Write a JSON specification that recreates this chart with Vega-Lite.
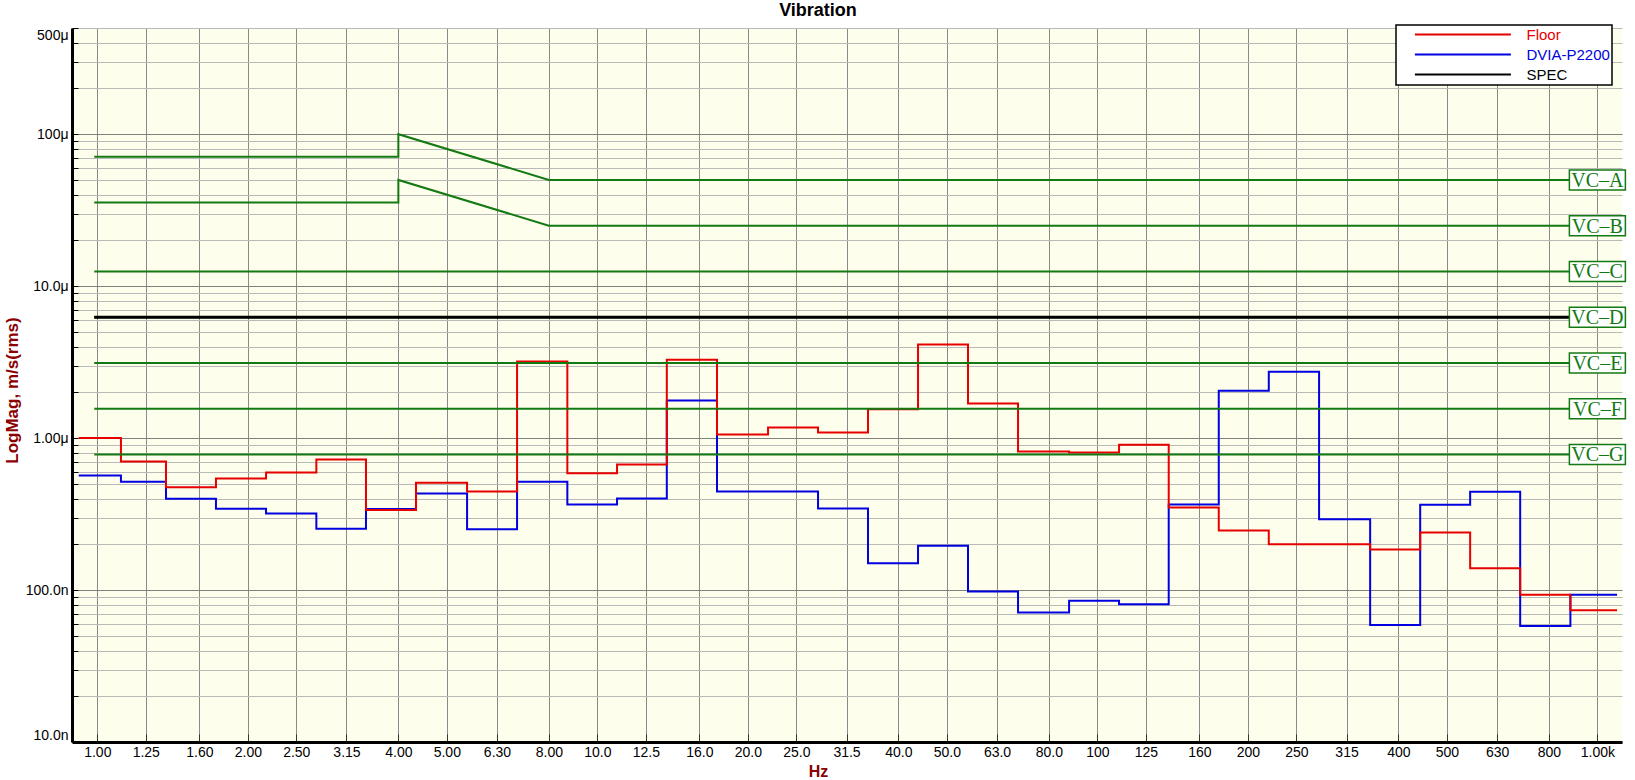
{
  "$schema": "https://vega.github.io/schema/vega-lite/v6.json",
  "width": 1550,
  "height": 714,
  "autosize": {"type": "none"},
  "padding": {"left": 72, "top": 28, "right": 13, "bottom": 38},
  "background": "white",
  "title": {"text": "Vibration", "anchor": "middle", "frame": "group", "dx": -29, "offset": 4, "fontSize": 18, "font": "Liberation Sans", "fontWeight": "bold", "color": "black"},
  "config": {
    "view": {"fill": "#fefeec", "stroke": null},
    "legend": {"strokeWidth": 1.5}
  },
  "datasets": {
    "meas": [
      {"series": "DVIA-P2200", "f": 0.918, "v": 0.568},
      {"series": "DVIA-P2200", "f": 1.115, "v": 0.516},
      {"series": "DVIA-P2200", "f": 1.372, "v": 0.399},
      {"series": "DVIA-P2200", "f": 1.727, "v": 0.343},
      {"series": "DVIA-P2200", "f": 2.175, "v": 0.319},
      {"series": "DVIA-P2200", "f": 2.742, "v": 0.253},
      {"series": "DVIA-P2200", "f": 3.446, "v": 0.341},
      {"series": "DVIA-P2200", "f": 4.339, "v": 0.432},
      {"series": "DVIA-P2200", "f": 5.489, "v": 0.251},
      {"series": "DVIA-P2200", "f": 6.91, "v": 0.516},
      {"series": "DVIA-P2200", "f": 8.71, "v": 0.366},
      {"series": "DVIA-P2200", "f": 10.95, "v": 0.401},
      {"series": "DVIA-P2200", "f": 13.77, "v": 1.77},
      {"series": "DVIA-P2200", "f": 17.35, "v": 0.446},
      {"series": "DVIA-P2200", "f": 21.95, "v": 0.446},
      {"series": "DVIA-P2200", "f": 27.63, "v": 0.344},
      {"series": "DVIA-P2200", "f": 34.78, "v": 0.15},
      {"series": "DVIA-P2200", "f": 43.79, "v": 0.196},
      {"series": "DVIA-P2200", "f": 55.12, "v": 0.098},
      {"series": "DVIA-P2200", "f": 69.4, "v": 0.0713},
      {"series": "DVIA-P2200", "f": 87.79, "v": 0.0851},
      {"series": "DVIA-P2200", "f": 110.5, "v": 0.0805},
      {"series": "DVIA-P2200", "f": 138.9, "v": 0.366},
      {"series": "DVIA-P2200", "f": 174.9, "v": 2.05},
      {"series": "DVIA-P2200", "f": 220.2, "v": 2.73},
      {"series": "DVIA-P2200", "f": 277.6, "v": 0.292},
      {"series": "DVIA-P2200", "f": 351.2, "v": 0.0589},
      {"series": "DVIA-P2200", "f": 442.2, "v": 0.364},
      {"series": "DVIA-P2200", "f": 556.6, "v": 0.444},
      {"series": "DVIA-P2200", "f": 700.8, "v": 0.058},
      {"series": "DVIA-P2200", "f": 883.1, "v": 0.0932},
      {"series": "DVIA-P2200", "f": 1095, "v": 0.0932},
      {"series": "Floor", "f": 0.918, "v": 1.0},
      {"series": "Floor", "f": 1.115, "v": 0.702},
      {"series": "Floor", "f": 1.372, "v": 0.474},
      {"series": "Floor", "f": 1.727, "v": 0.543},
      {"series": "Floor", "f": 2.175, "v": 0.594},
      {"series": "Floor", "f": 2.742, "v": 0.724},
      {"series": "Floor", "f": 3.446, "v": 0.336},
      {"series": "Floor", "f": 4.339, "v": 0.508},
      {"series": "Floor", "f": 5.489, "v": 0.446},
      {"series": "Floor", "f": 6.91, "v": 3.19},
      {"series": "Floor", "f": 8.71, "v": 0.586},
      {"series": "Floor", "f": 10.95, "v": 0.671},
      {"series": "Floor", "f": 13.77, "v": 3.28},
      {"series": "Floor", "f": 17.35, "v": 1.057},
      {"series": "Floor", "f": 21.95, "v": 1.175},
      {"series": "Floor", "f": 27.63, "v": 1.09},
      {"series": "Floor", "f": 34.78, "v": 1.55},
      {"series": "Floor", "f": 43.79, "v": 4.13},
      {"series": "Floor", "f": 55.12, "v": 1.69},
      {"series": "Floor", "f": 69.4, "v": 0.817},
      {"series": "Floor", "f": 87.79, "v": 0.805},
      {"series": "Floor", "f": 110.5, "v": 0.904},
      {"series": "Floor", "f": 138.9, "v": 0.35},
      {"series": "Floor", "f": 174.9, "v": 0.247},
      {"series": "Floor", "f": 220.2, "v": 0.2},
      {"series": "Floor", "f": 277.6, "v": 0.2},
      {"series": "Floor", "f": 351.2, "v": 0.185},
      {"series": "Floor", "f": 442.2, "v": 0.2395},
      {"series": "Floor", "f": 556.6, "v": 0.139},
      {"series": "Floor", "f": 700.8, "v": 0.0932},
      {"series": "Floor", "f": 883.1, "v": 0.0735},
      {"series": "Floor", "f": 1095, "v": 0.0735}
    ],
    "vc": [
      {"vc": "VC-A", "i": 0, "f": 0.986, "v": 71},
      {"vc": "VC-A", "i": 1, "f": 4, "v": 71},
      {"vc": "VC-A", "i": 2, "f": 4, "v": 100},
      {"vc": "VC-A", "i": 3, "f": 8, "v": 50},
      {"vc": "VC-A", "i": 4, "f": 1000, "v": 50},
      {"vc": "VC-B", "i": 0, "f": 0.986, "v": 35.5},
      {"vc": "VC-B", "i": 1, "f": 4, "v": 35.5},
      {"vc": "VC-B", "i": 2, "f": 4, "v": 50},
      {"vc": "VC-B", "i": 3, "f": 8, "v": 25},
      {"vc": "VC-B", "i": 4, "f": 1000, "v": 25},
      {"vc": "VC-C", "i": 0, "f": 0.986, "v": 12.5},
      {"vc": "VC-C", "i": 1, "f": 1000, "v": 12.5},
      {"vc": "VC-D", "i": 0, "f": 0.986, "v": 6.25},
      {"vc": "VC-D", "i": 1, "f": 1000, "v": 6.25},
      {"vc": "VC-E", "i": 0, "f": 0.986, "v": 3.125},
      {"vc": "VC-E", "i": 1, "f": 1000, "v": 3.125},
      {"vc": "VC-F", "i": 0, "f": 0.986, "v": 1.5625},
      {"vc": "VC-F", "i": 1, "f": 1000, "v": 1.5625},
      {"vc": "VC-G", "i": 0, "f": 0.986, "v": 0.78125},
      {"vc": "VC-G", "i": 1, "f": 1000, "v": 0.78125}
    ],
    "spec": [
      {"series": "SPEC", "f": 0.986, "v": 6.25},
      {"series": "SPEC", "f": 1000, "v": 6.25}
    ],
    "vclabels": [
      {"label": "VC–A", "f": 1000, "v": 50},
      {"label": "VC–B", "f": 1000, "v": 25},
      {"label": "VC–C", "f": 1000, "v": 12.5},
      {"label": "VC–D", "f": 1000, "v": 6.25},
      {"label": "VC–E", "f": 1000, "v": 3.125},
      {"label": "VC–F", "f": 1000, "v": 1.5625},
      {"label": "VC–G", "f": 1000, "v": 0.78125}
    ]
  },
  "encoding": {
    "x": {
      "field": "f", "type": "quantitative",
      "scale": {"type": "log", "domain": [0.89, 1120], "nice": false, "zero": false},
      "axis": {
        "values": [1, 1.25, 1.6, 2, 2.5, 3.15, 4, 5, 6.3, 8, 10, 12.5, 16, 20, 25, 31.5, 40, 50, 63, 80, 100, 125, 160, 200, 250, 315, 400, 500, 630, 800, 1000],
        "labelExpr": "datum.value >= 1000 ? '1.00k' : datum.value >= 100 ? format(datum.value, 'd') : datum.value >= 10 ? format(datum.value, '.1f') : format(datum.value, '.2f')",
        "grid": true, "gridColor": "#8a8a8a", "gridWidth": 1, "gridOpacity": 1,
        "ticks": true, "tickSize": -8, "tickColor": "#333333", "tickWidth": 1,
        "labelPadding": 11, "labelFont": "Liberation Sans", "labelFontSize": 14, "labelColor": "black",
        "labelFlush": false, "labelOverlap": false,
        "domainColor": "black", "domainWidth": 3,
        "title": "Hz", "titleFont": "Liberation Sans", "titleFontSize": 16, "titleFontWeight": "bold", "titleColor": "#8b0000",
        "titleX": 746, "titleY": 29, "titleAlign": "center", "titleBaseline": "middle"
      }
    },
    "y": {
      "field": "v", "type": "quantitative",
      "scale": {"type": "log", "domain": [0.01, 500], "nice": false, "zero": false},
      "axis": {
        "values": [0.01, 0.02, 0.03, 0.04, 0.05, 0.06, 0.07, 0.08, 0.09, 0.1, 0.2, 0.3, 0.4, 0.5, 0.6, 0.7, 0.8, 0.9, 1, 2, 3, 4, 5, 6, 7, 8, 9, 10, 20, 30, 40, 50, 60, 70, 80, 90, 100, 200, 300, 400, 500],
        "labelExpr": "datum.value == 500 ? '500μ' : datum.value == 100 ? '100μ' : datum.value == 10 ? '10.0μ' : datum.value == 1 ? '1.00μ' : datum.value == 0.1 ? '100.0n' : datum.value == 0.01 ? '10.0n' : ''",
        "grid": true,
        "gridColor": {"condition": {"test": "indexof([0.01, 0.1, 1, 10, 100], datum.value) >= 0", "value": "#808080"}, "value": "#b9b9b9"},
        "gridWidth": 1, "gridOpacity": 1,
        "ticks": true, "tickSize": -6, "tickColor": "black", "tickWidth": 1,
        "labelPadding": 10, "labelFont": "Liberation Sans", "labelFontSize": 14, "labelColor": "black",
        "labelFlush": true, "labelOverlap": false,
        "domainColor": "black", "domainWidth": 3,
        "title": "LogMag, m/s(rms)", "titleFont": "Liberation Sans", "titleFontSize": 17, "titleFontWeight": "bold", "titleColor": "#8b0000",
        "titleX": -60, "titleY": 362, "titleAngle": -90, "titleAlign": "center", "titleBaseline": "middle"
      }
    }
  },
  "layer": [
    {
      "data": {"name": "meas"},
      "transform": [{"filter": "datum.series == 'DVIA-P2200'"}],
      "mark": {"type": "line", "interpolate": "step-after", "strokeWidth": 2},
      "encoding": {
        "color": {
          "field": "series", "type": "nominal",
          "scale": {"domain": ["Floor", "DVIA-P2200", "SPEC"], "range": ["#e60000", "#0000e0", "#000000"]},
          "legend": {
            "orient": "none", "legendX": 1324, "legendY": -3,
            "title": null,
            "symbolType": "M0,0H24", "symbolSize": 64, "symbolStrokeWidth": 2,
            "symbolOffset": 9.4, "labelOffset": 120.4, "labelAlign": "left",
            "padding": 2, "rowPadding": 4,
            "strokeColor": "black", "fillColor": "white",
            "labelFont": "Liberation Sans", "labelFontSize": 15, "labelLimit": 300,
            "encode": {"labels": {"update": {"fill": {"signal": "scale('color', datum.value)"}, "align": {"value": "left"}, "x": {"value": 128.5}}}}
          }
        }
      }
    },
    {
      "data": {"name": "meas"},
      "transform": [{"filter": "datum.series == 'Floor'"}],
      "mark": {"type": "line", "interpolate": "step-after", "strokeWidth": 2},
      "encoding": {"color": {"field": "series", "type": "nominal"}}
    },
    {
      "data": {"name": "vc"},
      "mark": {"type": "line", "strokeWidth": 2, "color": "#137a13"},
      "encoding": {"detail": {"field": "vc", "type": "nominal"}, "order": {"field": "i", "type": "quantitative"}}
    },
    {
      "data": {"name": "spec"},
      "mark": {"type": "line", "strokeWidth": 3},
      "encoding": {"color": {"field": "series", "type": "nominal"}}
    },
    {
      "data": {"name": "vclabels"},
      "mark": {"type": "point", "shape": "M-2.8,-1H2.8V1H-2.8Z", "size": 400, "filled": true, "fill": "white", "stroke": "#137a13", "strokeWidth": 1.5, "opacity": 1}
    },
    {
      "data": {"name": "vclabels"},
      "mark": {"type": "text", "font": "Liberation Serif", "fontSize": 20, "color": "#137a13", "align": "center", "baseline": "middle", "dy": 1},
      "encoding": {"text": {"field": "label"}}
    }
  ]
}
